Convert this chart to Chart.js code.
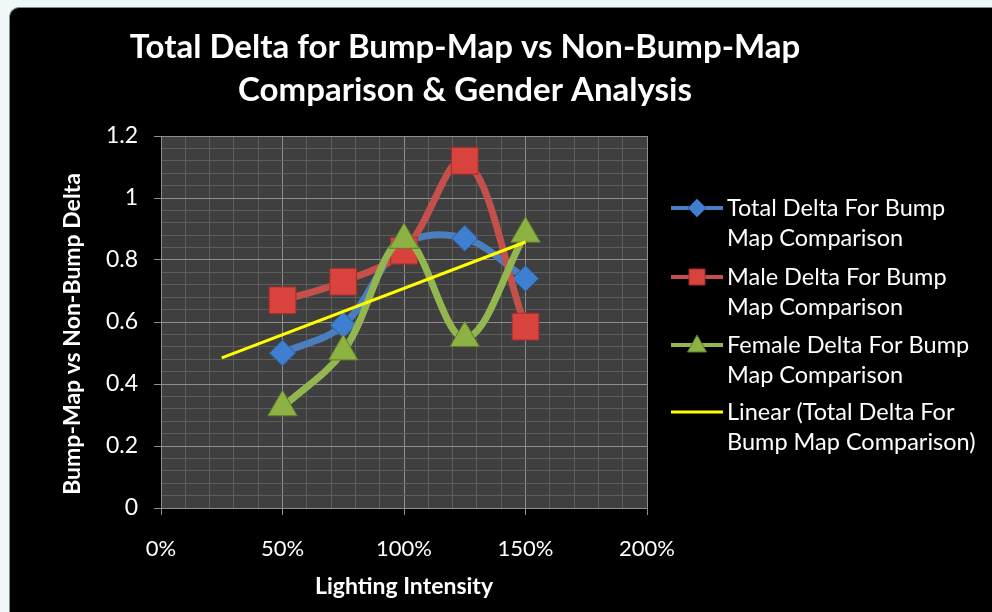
<!DOCTYPE html>
<html>
<head>
<meta charset="utf-8">
<script src="https://cdn.jsdelivr.net/npm/chart.js@4/dist/chart.umd.min.js"></script>
<style>
  html, body { margin: 0; padding: 0; background: #eef8f8; }
  body { width: 992px; height: 612px; overflow: hidden; position: relative; }
  #frame {
    position: absolute; left: 9px; top: 7px; width: 983px; height: 605px;
    background: #000; border-top-left-radius: 10px;
    border-left: 1px solid #7d8c8c; border-top: 1px solid #7d8c8c;
  }
  canvas { display: block; }
</style>
</head>
<body>
<div id="frame"><canvas id="chart" width="982" height="604"></canvas></div>
<script>
// ── Data ─────────────────────────────────
const intensity = [50, 75, 100, 125, 150];
const totalDelta = [0.50, 0.59, 0.85, 0.87, 0.74];
const maleDelta = [0.67, 0.73, 0.83, 1.12, 0.585];
const femaleDelta = [0.325, 0.505, 0.865, 0.548, 0.885];
const trendX = [25, 150];
const trendY = [0.484, 0.858];
const xTicks = [0, 50, 100, 150, 200];
const yTicks = [0, 0.2, 0.4, 0.6, 0.8, 1, 1.2];
const titleLines = ['Total Delta for Bump-Map vs Non-Bump-Map', 'Comparison & Gender Analysis'];
const yTitle = 'Bump-Map vs Non-Bump Delta';
const legendLines = [
    ['Total Delta For Bump', 'Map Comparison'],
    ['Male Delta For Bump', 'Map Comparison'],
    ['Female Delta For Bump', 'Map Comparison'],
    ['Linear (Total Delta For', 'Bump Map Comparison)']
];

const FONT = "Lato, 'Open Sans', sans-serif";
const blue = '#4a7ebf', red = '#c4504c', green = '#93b650', yellow = '#ffff00';

function pts(xs, ys) { return xs.map((x, i) => ({ x: x, y: ys[i] })); }
function isMajor(list, v) { return list.some(t => Math.abs(t - v) < 1e-6); }

// ── Plugins ─────────────────────────────────
const plotBg = {
    id: 'plotBg',
    beforeDraw(chart) {
        const a = chart.chartArea, ctx = chart.ctx;
        ctx.save();
        ctx.fillStyle = '#3f3f3f';
        ctx.fillRect(a.left, a.top, a.right - a.left, a.bottom - a.top);
        ctx.restore();
    }
};

function marker(ctx, style, x, y, r, fill, stroke) {
    ctx.beginPath();
    if (style === 'rectRot') {
        ctx.moveTo(x, y - r); ctx.lineTo(x + r, y); ctx.lineTo(x, y + r); ctx.lineTo(x - r, y);
    } else if (style === 'rect') {
        ctx.rect(x - r, y - r, 2 * r, 2 * r);
    } else {
        ctx.moveTo(x, y - r); ctx.lineTo(x + r * 0.95, y + r * 0.7); ctx.lineTo(x - r * 0.95, y + r * 0.7);
    }
    ctx.closePath();
    ctx.fillStyle = fill; ctx.fill();
    ctx.lineWidth = 1; ctx.strokeStyle = stroke; ctx.stroke();
}

const textBits = {
    id: 'textBits',
    afterDraw(chart) {
        const ctx = chart.ctx;
        ctx.save();
        ctx.fillStyle = '#fff';
        ctx.textAlign = 'center';
        ctx.textBaseline = 'middle';
        ctx.font = 'bold 33px ' + FONT;
        ctx.fillText(titleLines[0], 455, 39);
        ctx.fillText(titleLines[1], 455, 82);

        // y axis title
        ctx.save();
        ctx.translate(63, 326);
        ctx.rotate(-Math.PI / 2);
        ctx.font = 'bold 23px ' + FONT;
        ctx.fillText(yTitle, 0, 0);
        ctx.restore();

        const keys = [
            { color: blue, style: 'rectRot', r: 9, fill: '#3f7fd2', stroke: '#2c5d9c', width: 4 },
            { color: red, style: 'rect', r: 8, fill: '#d8433d', stroke: '#9c2e2b', width: 4 },
            { color: green, style: 'triangle', r: 10, fill: '#8db143', stroke: '#5f7f2a', width: 4 },
            { color: yellow, style: null, width: 3 }
        ];
        const rows = [200, 269, 337, 404];
        ctx.textAlign = 'left';
        ctx.font = '23.5px ' + FONT;
        keys.forEach((k, i) => {
            const y = rows[i];
            ctx.strokeStyle = k.color;
            ctx.lineWidth = k.width;
            ctx.beginPath(); ctx.moveTo(661, y); ctx.lineTo(713, y); ctx.stroke();
            if (k.style) marker(ctx, k.style, 687, y, k.r, k.fill, k.stroke);
            ctx.fillStyle = '#fff';
            ctx.fillText(legendLines[i][0], 717, y);
            ctx.fillText(legendLines[i][1], 717, y + 30);
        });
        ctx.restore();
    }
};

// ── Chart ─────────────────────────────────
new Chart(document.getElementById('chart'), {
    type: 'scatter',
    data: {
        datasets: [
            {
                label: 'Linear (Total Delta For Bump Map Comparison)', data: pts(trendX, trendY),
                showLine: true, borderColor: yellow, borderWidth: 3, pointRadius: 0, order: 0
            },
            {
                label: 'Female Delta For Bump Map Comparison', data: pts(intensity, femaleDelta),
                showLine: true, tension: 0.36, borderColor: green, borderWidth: 7,
                pointStyle: 'triangle', pointRadius: 17, pointBackgroundColor: '#8db143',
                pointBorderColor: '#5f7f2a', pointBorderWidth: 1, order: 1
            },
            {
                label: 'Male Delta For Bump Map Comparison', data: pts(intensity, maleDelta),
                showLine: true, tension: 0.36, borderColor: red, borderWidth: 7,
                pointStyle: 'rect', pointRadius: 19, pointBackgroundColor: '#d8433d',
                pointBorderColor: '#9c2e2b', pointBorderWidth: 1, order: 2
            },
            {
                label: 'Total Delta For Bump Map Comparison', data: pts(intensity, totalDelta),
                showLine: true, tension: 0.36, borderColor: blue, borderWidth: 7,
                pointStyle: 'rectRot', pointRadius: 13, pointBackgroundColor: '#3f7fd2',
                pointBorderColor: '#2c5d9c', pointBorderWidth: 1, order: 3
            }
        ]
    },
    options: {
        responsive: false, animation: false, events: [],
        layout: { padding: { left: 40, top: 128, right: 345, bottom: 8 } },
        plugins: { legend: { display: false }, title: { display: false }, tooltip: { enabled: false } },
        scales: {
            x: {
                type: 'linear', min: 0, max: 200,
                afterFit: s => { s.height = 96; },
                ticks: {
                    stepSize: 10, autoSkip: false, maxTicksLimit: 100, maxRotation: 0, minRotation: 0,
                    color: '#fff', padding: 21, font: { family: FONT, size: 22 },
                    callback: v => isMajor(xTicks, v) ? v + '%' : ''
                },
                grid: {
                    tickLength: 7,
                    color: c => isMajor(xTicks, c.tick.value) ? '#8e8e8e' : '#5d5d5d',
                    tickColor: c => isMajor(xTicks, c.tick.value) ? '#8e8e8e' : 'transparent'
                },
                border: { color: '#8e8e8e' },
                title: {
                    display: true, text: 'Lighting Intensity', color: '#fff',
                    font: { family: FONT, size: 23, weight: 'bold' }, padding: { top: 4, bottom: 4 }
                }
            },
            y: {
                min: 0, max: 1.2,
                afterFit: s => { s.width = 111; },
                ticks: {
                    stepSize: 0.04, autoSkip: false, maxTicksLimit: 100,
                    color: '#fff', padding: 16, font: { family: FONT, size: 23 },
                    callback: v => isMajor(yTicks, v) ? String(Math.round(v * 10) / 10) : ''
                },
                grid: {
                    tickLength: 7,
                    color: c => isMajor(yTicks, c.tick.value) ? '#8e8e8e' : '#5d5d5d',
                    tickColor: c => isMajor(yTicks, c.tick.value) ? '#8e8e8e' : 'transparent'
                },
                border: { color: '#8e8e8e' }
            }
        }
    },
    plugins: [plotBg, textBits]
});
</script>
</body>
</html>
